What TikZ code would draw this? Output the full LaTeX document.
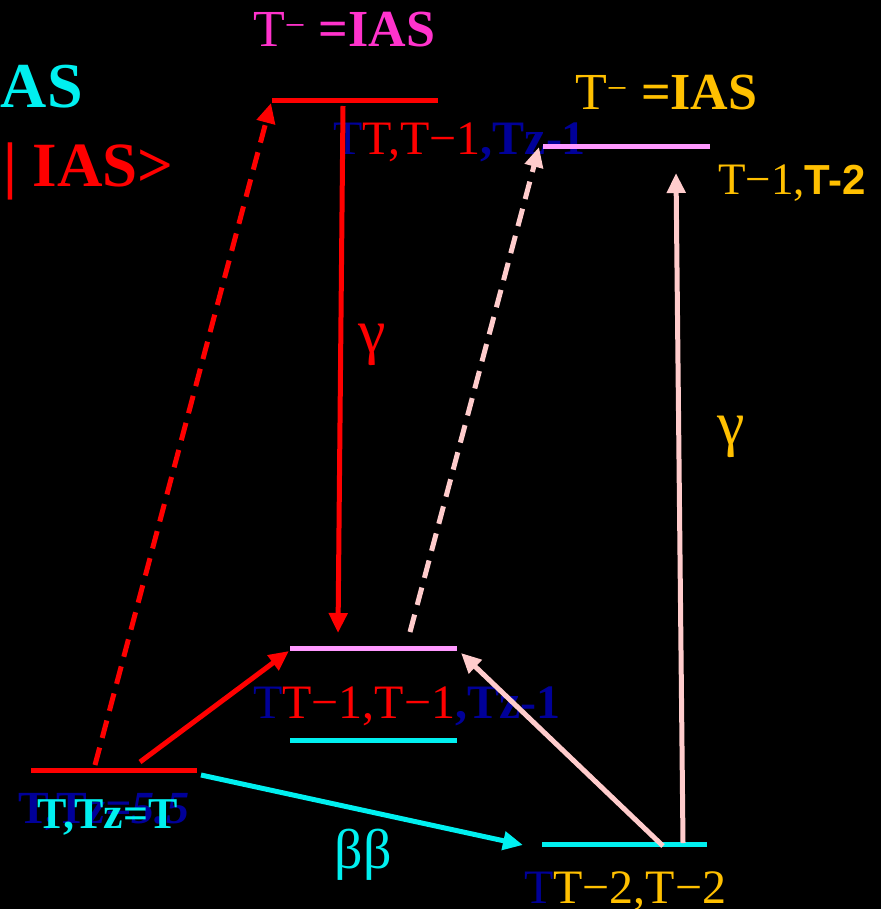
\documentclass[tikz,border=0pt]{standalone}
\usepackage{fontspec}
\setmainfont{Liberation Serif}
\newfontfamily\arialfont{Liberation Sans}
\usetikzlibrary{arrows.meta}
\definecolor{myred}{RGB}{255,0,0}
\definecolor{mymag}{RGB}{255,51,204}
\definecolor{mycyan}{RGB}{0,240,240}
\definecolor{mynavy}{RGB}{0,0,153}
\definecolor{mygold}{RGB}{255,192,0}
\definecolor{mylilac}{RGB}{255,153,255}
\definecolor{mypink}{RGB}{255,204,204}
\newcommand\myfs[1]{\fontsize{#1}{#1}\selectfont}
\begin{document}
\begin{tikzpicture}[x=1pt,y=-1pt,
  lbl/.style={inner sep=0pt, anchor=base west},
  levelline/.style={line width=5pt},
  arr/.style={line width=5pt, -{Triangle[length=20pt,width=18pt]}},
  dasharr/.style={arr, dash pattern=on 18pt off 10pt}]
\fill[black] (0,0) rectangle (881,909);
\useasboundingbox (0,0) rectangle (881,909);

% texts
\node[lbl, text=mymag] (magias) at (253,47) {\myfs{52}T\textsuperscript{−} \textbf{=IAS}};
\node[lbl, text=mygold] (goldias) at (575,110) {\myfs{52}T\textsuperscript{−} \textbf{=IAS}};
\node[inner sep=0pt, anchor=base east, text=mycyan] (cyanias) at (83,108) {\myfs{64}\textbf{IAS}};
\node[lbl, text=myred] (redias) at (3,187) {\myfs{63}\textbf{| IAS>}};
\node[lbl] (toplbl) at (333,155) {\myfs{48}\textcolor{mynavy}{T}\textcolor{myred}{T,T−1}\textcolor{mynavy}{\textbf{,Tz-1}}};
\node[lbl] (goldlbl) at (718,195) {\color{mygold}\myfs{45}T−1,{\arialfont\bfseries\myfs{42}T-2}};
\node[lbl] (midlbl) at (253,718) {\myfs{48}\textcolor{mynavy}{T}\textcolor{myred}{T−1,T−1}\textcolor{mynavy}{\textbf{,Tz-1}}};
\node[lbl] (brlbl) at (524,903) {\myfs{48}\textcolor{mynavy}{T}\textcolor{mygold}{T−2,T−2}};
\node[lbl, text=mynavy] (bllblA) at (18,823) {\myfs{46}\textbf{T,T\textit{z=5.5}}};
\node[lbl, text=mycyan] (bllblB) at (37,828) {\myfs{44}\textbf{T,Tz=T}};
\node[text=myred, inner sep=0pt] (gam1) at (372,345) {\myfs{62}γ};
\node[text=mygold, inner sep=0pt] (gam2) at (731,437) {\myfs{62}γ};
\node[text=mycyan, inner sep=0pt] (bb) at (363,855) {\myfs{56}ββ};

% level coordinates
\coordinate (L1a) at (272,101); \coordinate (L1b) at (438,101);
\coordinate (L2a) at (543,147); \coordinate (L2b) at (710,147);
\coordinate (L3a) at (290,648); \coordinate (L3b) at (457,648);
\coordinate (L4a) at (290,740); \coordinate (L4b) at (457,740);
\coordinate (L5a) at (31,770);  \coordinate (L5b) at (197,770);
\coordinate (L6a) at (542,844); \coordinate (L6b) at (707,844);

\draw[levelline, myred]   (L1a) -- (L1b);
\draw[levelline, mylilac] (L2a) -- (L2b);
\draw[levelline, mylilac] (L3a) -- (L3b);
\draw[levelline, mycyan]  (L4a) -- (L4b);
\draw[levelline, myred]   (L5a) -- (L5b);
\draw[levelline, mycyan]  (L6a) -- (L6b);

% arrow coordinates
\coordinate (a1s) at (95,765);  \coordinate (a1e) at (271,103);
\coordinate (a2s) at (343,106); \coordinate (a2e) at (338,633);
\coordinate (a3s) at (140,762); \coordinate (a3e) at (289,651);
\coordinate (a4s) at (410,632); \coordinate (a4e) at (539,147);
\coordinate (a5s) at (663,846); \coordinate (a5e) at (461,653);
\coordinate (a6s) at (683,843); \coordinate (a6e) at (676,173);
\coordinate (a7s) at (201,775); \coordinate (a7e) at (523,845);

\draw[dasharr, myred]  (a1s) -- (a1e);
\draw[arr, myred]      (a2s) -- (a2e);
\draw[arr, myred]      (a3s) -- (a3e);
\draw[dasharr, mypink] (a4s) -- (a4e);
\draw[arr, mypink]     (a5s) -- (a5e);
\draw[arr, mypink]     (a6s) -- (a6e);
\draw[arr, mycyan]     (a7s) -- (a7e);
\end{tikzpicture}
\end{document}
